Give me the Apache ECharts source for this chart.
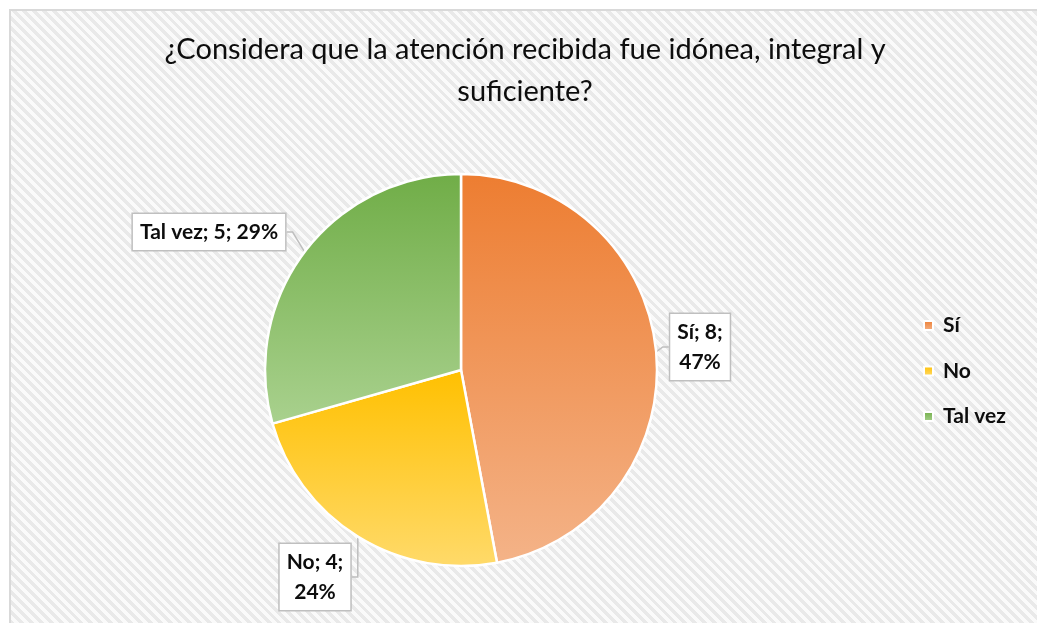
<!DOCTYPE html>
<html>
<head>
<meta charset="utf-8">
<script src="https://cdn.jsdelivr.net/npm/echarts@6/dist/echarts.min.js"></script>
<style>
  html, body { margin: 0; padding: 0; background: #ffffff; overflow: hidden; width: 1037px; height: 623px; }
  #frame {
    position: absolute; left: 9px; top: 9px; width: 1060px; height: 640px;
    box-sizing: border-box; border-left: 2px solid #d9d9d9; border-top: 2px solid #d9d9d9;
    background: repeating-linear-gradient(45deg, #fafafa 0px, #fafafa 3.5px, #e9e9e9 3.5px, #e9e9e9 7px);
  }
  #chart { position: absolute; left: 0; top: 0; width: 1037px; height: 623px; }
</style>
</head>
<body>
<div id="frame"></div>
<div id="chart"></div>
<script>
const titleText = '¿Considera que la atención recibida fue idónea, integral y\nsuficiente?';
const categories = ['Sí', 'No', 'Tal vez'];
const values = [8, 4, 5];
const topColors = ['#ED7D31', '#FFC000', '#70AD47'];
const bottomColors = ['#F4B388', '#FFDA6A', '#A9D18E'];
const labelBreaks = [true, true, false];

const chart = echarts.init(document.getElementById('chart'), null, { renderer: 'canvas' });

const data = categories.map((name, i) => ({
  name: name,
  value: values[i],
  itemStyle: {
    color: new echarts.graphic.LinearGradient(0, 0, 0, 1, [
      { offset: 0, color: topColors[i] },
      { offset: 1, color: bottomColors[i] }
    ])
  }
}));

const labelPos = [
  { x: 700, y: 347 },
  { x: 315, y: 577 },
  { x: 209, y: 232 }
];

chart.setOption({
  animation: false,
  backgroundColor: 'transparent',
  title: {
    text: titleText,
    left: 520,
    textAlign: 'center',
    top: 24,
    textStyle: {
      fontFamily: 'Lato',
      fontWeight: 'normal',
      fontSize: 29,
      lineHeight: 42,
      color: '#0d0d0d'
    }
  },
  legend: {
    orient: 'vertical',
    left: 918,
    top: 310,
    itemWidth: 9,
    itemHeight: 9,
    itemGap: 24.5,
    icon: 'rect',
    data: categories,
    textStyle: {
      fontFamily: 'Lato',
      fontWeight: 'bold',
      fontSize: 21,
      color: '#0d0d0d',
      padding: [0, 0, 0, 5]
    }
  },
  series: [{
    type: 'pie',
    center: [461, 370],
    radius: 196,
    startAngle: 90,
    clockwise: true,
    percentPrecision: 0,
    itemStyle: { borderColor: '#ffffff', borderWidth: 2.5 },
    label: {
      show: true,
      position: 'outside',
      formatter: function (p) {
        return labelBreaks[p.dataIndex]
          ? p.name + '; ' + p.value + ';\n' + p.percent + '%'
          : p.name + '; ' + p.value + '; ' + p.percent + '%';
      },
      fontFamily: 'Lato',
      fontWeight: 'bold',
      fontSize: 21,
      lineHeight: 30,
      color: '#0d0d0d',
      backgroundColor: '#ffffff',
      borderColor: '#bfbfbf',
      borderWidth: 1.5,
      padding: [4, 7, 2, 7],
      align: 'center'
    },
    labelLine: {
      show: true,
      length: 6,
      length2: 6,
      lineStyle: { color: '#bfbfbf', width: 1.5 }
    },
    labelLayout: function (params) {
      const p = labelPos[params.dataIndex];
      return { x: p.x, y: p.y, align: 'center', verticalAlign: 'middle' };
    },
    emphasis: { disabled: true },
    data: data
  }]
});
</script>
</body>
</html>
